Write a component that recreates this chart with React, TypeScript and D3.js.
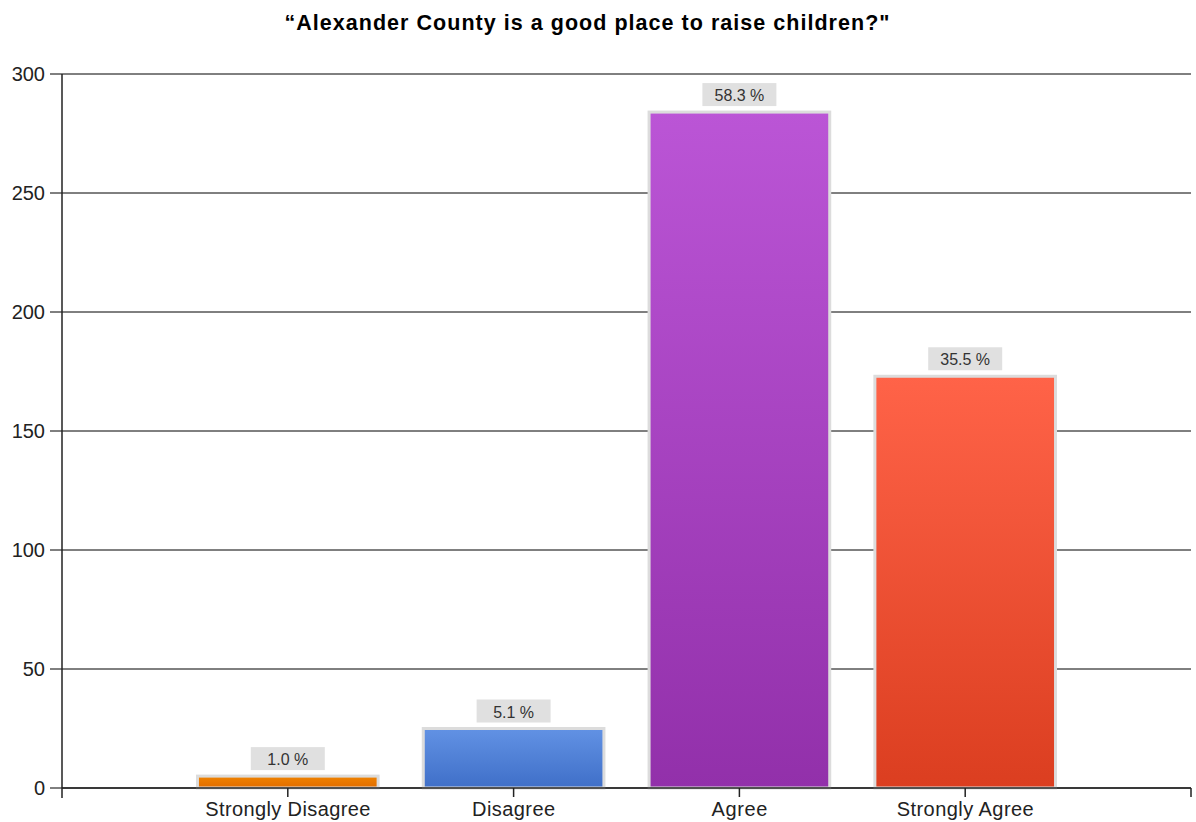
import React from "react";
import * as d3 from "d3";

const categories = ["Strongly Disagree", "Disagree", "Agree", "Strongly Agree"];
const counts = [5, 25, 284, 173];
const percentLabels = ["1.0 %", "5.1 %", "58.3 %", "35.5 %"];
const yTicks = [0, 50, 100, 150, 200, 250, 300];
const colorTop = ["#f08300", "#6292e4", "#bb55d6", "#ff6348"];
const colorBottom = ["#e06c00", "#3f6fc8", "#9230aa", "#db3e20"];
const labelWidths = [165, 83, 56, 137];

const W = 1196;
const H = 822;
const left = 62;
const right = 1191;
const top = 74;
const bottom = 788;

export default function App() {
  const x = d3.scaleLinear().domain([0, categories.length + 1]).range([left, right]);
  const y = d3.scaleLinear().domain([0, 300]).range([bottom, top]);
  const step = x(1) - x(0);
  const barW = step * 0.8;
  const font = "Arial, 'Liberation Sans', sans-serif";

  return (
    <svg width={W} height={H} style={{ position: "absolute", left: 0, top: 0 }} fontFamily={font}>
      <defs>
        {categories.map((c, i) => (
          <linearGradient key={c} id={`g${i}`} x1="0" y1="0" x2="0" y2="1">
            <stop offset="0" stopColor={colorTop[i]} />
            <stop offset="1" stopColor={colorBottom[i]} />
          </linearGradient>
        ))}
      </defs>
      <rect width={W} height={H} fill="#fff" />
      <text
        x={587}
        y={30}
        textAnchor="middle"
        fontSize={21.5}
        fontWeight="bold"
        fill="#000"
        textLength={605}
        lengthAdjust="spacing"
      >
        “Alexander County is a good place to raise children?"
      </text>
      {yTicks.map((t) => (
        <g key={t}>
          <line x1={left - 12} x2={right} y1={y(t)} y2={y(t)} stroke="#000" strokeWidth={1} />
          <text x={45} y={y(t) + 7} textAnchor="end" fontSize={20} fill="#222">
            {t}
          </text>
        </g>
      ))}
      <line x1={left} x2={left} y1={top} y2={bottom + 10} stroke="#222" strokeWidth={1.5} />
      {categories.map((c, i) => {
        const cx = x(i + 1);
        const yt = y(counts[i]);
        return (
          <g key={c}>
            <rect
              x={cx - barW / 2}
              y={yt}
              width={barW}
              height={bottom - yt}
              fill={`url(#g${i})`}
              stroke="#dcdcdc"
              strokeWidth={3}
            />
            <rect x={cx - 37} y={yt - 29} width={74} height={23} fill="#e0e0e0" />
            <text x={cx} y={yt - 11} textAnchor="middle" fontSize={16} fill="#333">
              {percentLabels[i]}
            </text>
            <line x1={cx} x2={cx} y1={bottom} y2={bottom + 9} stroke="#222" strokeWidth={1.5} />
            <text
              x={cx}
              y={816}
              textAnchor="middle"
              fontSize={20}
              fill="#222"
              textLength={labelWidths[i]}
              lengthAdjust="spacing"
            >
              {c}
            </text>
          </g>
        );
      })}
      <line x1={left} x2={right} y1={bottom} y2={bottom} stroke="#222" strokeWidth={1.5} />
      <line x1={right} x2={right} y1={bottom} y2={bottom + 9} stroke="#222" strokeWidth={1.5} />
    </svg>
  );
}
